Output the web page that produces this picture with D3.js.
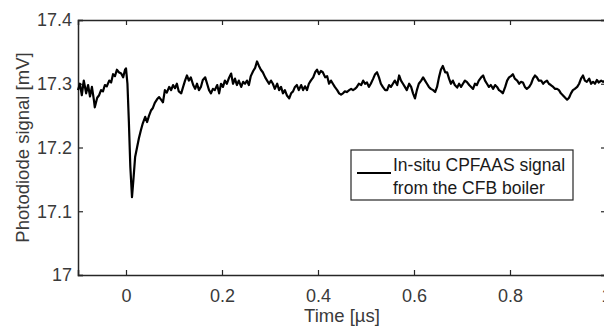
<!DOCTYPE html>
<html>
<head>
<meta charset="utf-8">
<script src="https://cdn.jsdelivr.net/npm/d3@7"></script>
<style>
  body { margin: 0; background: #fff; }
  svg text { font-family: "Liberation Sans", Arial, sans-serif; }
</style>
</head>
<body>
<svg id="chart" width="604" height="326"></svg>
<script>
// temps (µs) et signal de la photodiode (mV)
const temps = [
  -0.100, -0.096, -0.092, -0.088, -0.083, -0.079, -0.075, -0.071, -0.067, -0.065,
  -0.060, -0.056, -0.052, -0.048, -0.044, -0.040, -0.035, -0.031, -0.027, -0.023,
  -0.019, -0.015, -0.010, -0.006, -0.002, 0.000, 0.003, 0.006, 0.009, 0.0125,
  0.0155, 0.019, 0.023, 0.027, 0.031, 0.035, 0.040, 0.044, 0.048, 0.052,
  0.056, 0.060, 0.065, 0.069, 0.073, 0.077, 0.081, 0.085, 0.090, 0.094,
  0.098, 0.102, 0.106, 0.110, 0.115, 0.119, 0.123, 0.127, 0.131, 0.135,
  0.140, 0.144, 0.148, 0.152, 0.156, 0.160, 0.165, 0.169, 0.173, 0.177,
  0.181, 0.185, 0.190, 0.194, 0.198, 0.202, 0.206, 0.210, 0.215, 0.219,
  0.223, 0.227, 0.231, 0.235, 0.240, 0.244, 0.248, 0.252, 0.256, 0.260,
  0.265, 0.269, 0.273, 0.277, 0.281, 0.285, 0.290, 0.294, 0.298, 0.302,
  0.306, 0.310, 0.315, 0.319, 0.323, 0.327, 0.331, 0.335, 0.340, 0.344,
  0.348, 0.352, 0.356, 0.360, 0.365, 0.369, 0.373, 0.377, 0.381, 0.385,
  0.390, 0.394, 0.398, 0.402, 0.406, 0.410, 0.415, 0.419, 0.423, 0.427,
  0.431, 0.435, 0.440, 0.444, 0.448, 0.452, 0.456, 0.460, 0.465, 0.469,
  0.473, 0.477, 0.481, 0.485, 0.490, 0.494, 0.498, 0.502, 0.506, 0.510,
  0.515, 0.519, 0.523, 0.527, 0.531, 0.535, 0.540, 0.544, 0.548, 0.552,
  0.556, 0.560, 0.565, 0.569, 0.573, 0.577, 0.581, 0.585, 0.590, 0.594,
  0.598, 0.602, 0.606, 0.610, 0.615, 0.619, 0.623, 0.627, 0.631, 0.635,
  0.640, 0.644, 0.648, 0.652, 0.656, 0.660, 0.665, 0.669, 0.673, 0.677,
  0.681, 0.685, 0.690, 0.694, 0.698, 0.702, 0.706, 0.710, 0.715, 0.719,
  0.723, 0.727, 0.731, 0.735, 0.740, 0.744, 0.748, 0.752, 0.756, 0.760,
  0.765, 0.769, 0.773, 0.777, 0.781, 0.785, 0.790, 0.794, 0.798, 0.802,
  0.806, 0.810, 0.815, 0.819, 0.823, 0.827, 0.831, 0.835, 0.840, 0.844,
  0.848, 0.852, 0.856, 0.860, 0.865, 0.869, 0.873, 0.877, 0.881, 0.885,
  0.890, 0.894, 0.898, 0.902, 0.906, 0.910, 0.915, 0.919, 0.923, 0.927,
  0.931, 0.935, 0.940, 0.944, 0.948, 0.952, 0.956, 0.960, 0.965, 0.969,
  0.973, 0.977, 0.981, 0.985, 0.990, 0.994, 0.998
];

const signal = [
  17.290, 17.300, 17.282, 17.305, 17.285, 17.298, 17.280, 17.295, 17.275, 17.263,
  17.278, 17.282, 17.290, 17.288, 17.298, 17.296, 17.305, 17.302, 17.315, 17.312,
  17.322, 17.318, 17.316, 17.310, 17.322, 17.324, 17.300, 17.240, 17.170, 17.122,
  17.150, 17.185, 17.200, 17.215, 17.227, 17.238, 17.248, 17.240, 17.250, 17.258,
  17.262, 17.270, 17.276, 17.279, 17.275, 17.271, 17.290, 17.286, 17.295, 17.290,
  17.298, 17.293, 17.300, 17.288, 17.285, 17.295, 17.305, 17.313, 17.305, 17.310,
  17.298, 17.292, 17.300, 17.290, 17.295, 17.306, 17.310, 17.300, 17.290, 17.285,
  17.292, 17.290, 17.298, 17.285, 17.300, 17.295, 17.305, 17.300, 17.310, 17.316,
  17.300, 17.308, 17.298, 17.305, 17.295, 17.303, 17.300, 17.305, 17.298, 17.312,
  17.320, 17.325, 17.335, 17.328, 17.322, 17.318, 17.310, 17.305, 17.300, 17.305,
  17.300, 17.292, 17.300, 17.290, 17.295, 17.285, 17.290, 17.282, 17.277, 17.285,
  17.288, 17.295, 17.298, 17.290, 17.298, 17.290, 17.296, 17.290, 17.300, 17.305,
  17.310, 17.318, 17.322, 17.315, 17.320, 17.318, 17.310, 17.312, 17.300, 17.305,
  17.300, 17.295, 17.290, 17.285, 17.283, 17.285, 17.288, 17.287, 17.290, 17.292,
  17.290, 17.292, 17.295, 17.300, 17.298, 17.305, 17.300, 17.302, 17.295, 17.300,
  17.308, 17.315, 17.318, 17.310, 17.300, 17.295, 17.290, 17.290, 17.298, 17.295,
  17.300, 17.305, 17.298, 17.313, 17.305, 17.300, 17.295, 17.290, 17.300, 17.295,
  17.285, 17.277, 17.290, 17.300, 17.305, 17.310, 17.305, 17.300, 17.295, 17.292,
  17.290, 17.287, 17.295, 17.310, 17.322, 17.328, 17.318, 17.318, 17.308, 17.300,
  17.305, 17.298, 17.294, 17.300, 17.295, 17.300, 17.305, 17.303, 17.298, 17.295,
  17.292, 17.300, 17.298, 17.305, 17.310, 17.313, 17.305, 17.300, 17.295, 17.298,
  17.292, 17.298, 17.295, 17.290, 17.288, 17.285, 17.295, 17.305, 17.310, 17.312,
  17.315, 17.308, 17.305, 17.300, 17.303, 17.302, 17.295, 17.292, 17.295, 17.300,
  17.308, 17.313, 17.310, 17.305, 17.305, 17.300, 17.303, 17.305, 17.300, 17.298,
  17.295, 17.292, 17.292, 17.290, 17.285, 17.282, 17.278, 17.275, 17.278, 17.285,
  17.290, 17.292, 17.295, 17.300, 17.308, 17.313, 17.305, 17.303, 17.308, 17.300,
  17.303, 17.300, 17.306, 17.302, 17.305, 17.303, 17.305
];

const ticksX = [0, 0.2, 0.4, 0.6, 0.8, 1];
const ticksY = [17, 17.1, 17.2, 17.3, 17.4];
const legende = ["In-situ CPFAAS signal", "from the CFB boiler"];

const marge = { haut: 20, droite: -2, bas: 51, gauche: 78 };
const largeur = 604, hauteur = 326;
const couleurAxe = "#262626";
const couleurTexte = "#3a3a3a";

const svg = d3.select("#chart");

const x = d3.scaleLinear()
  .domain([-0.1, 1])
  .range([marge.gauche, largeur - marge.droite]);

const y = d3.scaleLinear()
  .domain([17, 17.4])
  .range([hauteur - marge.bas, marge.haut]);

// axes (style MATLAB : graduations vers l'intérieur, boîte fermée)
const axeBas = svg.append("g")
  .attr("transform", `translate(0,${y(17)})`)
  .call(d3.axisBottom(x).tickValues(ticksX).tickSize(-5).tickPadding(14)
    .tickFormat(d3.format("~g")));
const axeGauche = svg.append("g")
  .attr("transform", `translate(${x(-0.1)},0)`)
  .call(d3.axisLeft(y).tickValues(ticksY).tickSize(-5).tickPadding(6)
    .tickFormat(d3.format("~g")));
const axeHaut = svg.append("g")
  .attr("transform", `translate(0,${y(17.4)})`)
  .call(d3.axisTop(x).tickValues(ticksX).tickSize(-5).tickFormat(""));
const axeDroit = svg.append("g")
  .attr("transform", `translate(${x(1)},0)`)
  .call(d3.axisRight(y).tickValues(ticksY).tickSize(-5).tickFormat(""));

[axeBas, axeGauche, axeHaut, axeDroit].forEach(g => {
  g.select(".domain").attr("stroke", couleurAxe).attr("stroke-width", 1.5);
  g.selectAll(".tick line").attr("stroke", couleurAxe).attr("stroke-width", 1.2);
  g.selectAll(".tick text")
    .attr("fill", couleurTexte)
    .style("font-size", "18px");
});

// la courbe
const points = temps.map((t, i) => ({ t: t, v: signal[i] }));
const ligne = d3.line()
  .x(d => x(d.t))
  .y(d => y(d.v));

svg.append("path")
  .datum(points)
  .attr("fill", "none")
  .attr("stroke", "#000")
  .attr("stroke-width", 2.2)
  .attr("stroke-linejoin", "round")
  .attr("d", ligne);

// titres des axes
svg.append("text")
  .attr("x", (x(-0.1) + x(1)) / 2)
  .attr("y", 322)
  .attr("text-anchor", "middle")
  .attr("fill", couleurTexte)
  .style("font-size", "18.5px")
  .text("Time [µs]");

svg.append("text")
  .attr("transform", `translate(29,${(y(17) + y(17.4)) / 2}) rotate(-90)`)
  .attr("text-anchor", "middle")
  .attr("fill", couleurTexte)
  .style("font-size", "18.5px")
  .text("Photodiode signal [mV]");

// légende
const leg = svg.append("g");
leg.append("rect")
  .attr("x", 351).attr("y", 150)
  .attr("width", 222).attr("height", 50)
  .attr("fill", "#fff")
  .attr("stroke", couleurAxe)
  .attr("stroke-width", 1.2);
leg.append("line")
  .attr("x1", 357).attr("x2", 391)
  .attr("y1", 173).attr("y2", 173)
  .attr("stroke", "#000")
  .attr("stroke-width", 2.2);
leg.selectAll("text.leg")
  .data(legende)
  .enter()
  .append("text")
  .attr("class", "leg")
  .attr("x", 393)
  .attr("y", (d, i) => 170.5 + i * 23)
  .attr("fill", "#1a1a1a")
  .style("font-size", "17.5px")
  .text(d => d);
</script>
</body>
</html>
